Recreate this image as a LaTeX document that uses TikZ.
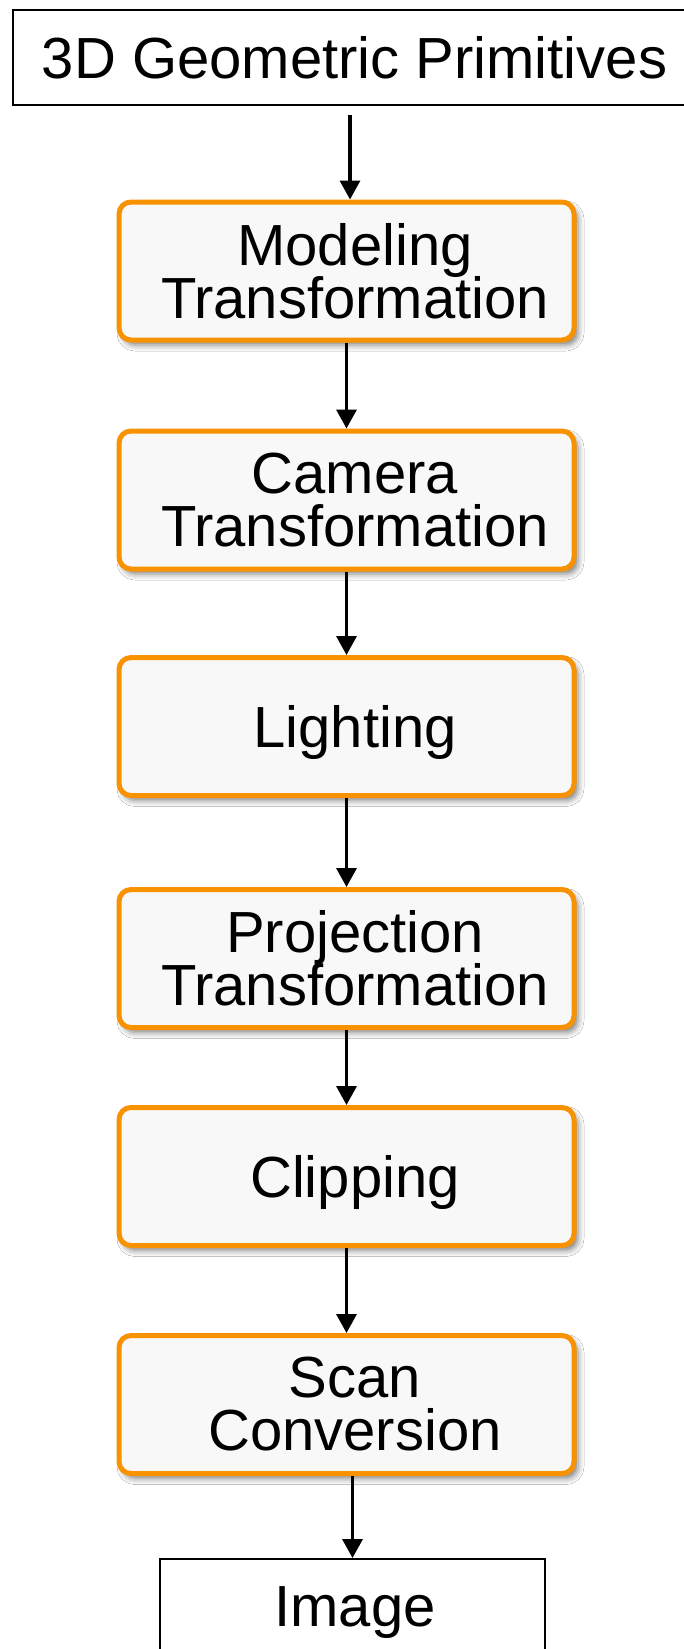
\documentclass[tikz,border=0pt]{standalone}
\usepackage{fontspec}
\setmainfont{Liberation Sans}
\usetikzlibrary{arrows.meta,shadows.blur}
\definecolor{orng}{RGB}{248,146,0}
\definecolor{boxfill}{RGB}{248,248,248}
\newcommand{\sh}{\hspace*{17pt}}
\newcommand{\stagefont}{\fontsize{58}{53}\selectfont\setlength{\lineskiplimit}{-100pt}}
\begin{document}
\begin{tikzpicture}[x=1pt,y=-1pt,
  stage/.style={draw=orng, line width=5pt, fill=boxfill, rounded corners=12pt,
    minimum width=455pt, minimum height=138pt, inner sep=0pt, align=center,
    font=\stagefont,
    blur shadow={shadow xshift=4pt, shadow yshift=-5pt, shadow blur radius=6pt, shadow opacity=50}},
  plain/.style={draw=black, line width=2pt, fill=white, inner sep=0pt,
    font=\stagefont, text depth=0pt},
  flow/.style={line width=3.5pt, -{Triangle[width=20pt,length=19pt]}}]
\path[use as bounding box, clip] (0,0) rectangle (684,1649);
\fill[white] (0,0) rectangle (684,1649);

\node[plain, minimum width=687pt, minimum height=95pt] (top) at (356.5,57.75) {3D Geometric Primitives\hspace*{4pt}};

\node[stage] (m1) at (346.5,271)    {\sh Modeling\\\sh Transformation};
\node[stage] (m2) at (346.5,500)    {\sh Camera\\\sh Transformation};
\node[stage, text depth=0pt] (m3) at (346.5,726.5)  {\sh Lighting};
\node[stage] (m4) at (346.5,958.5)  {\sh Projection\\\sh Transformation};
\node[stage, text depth=0pt] (m5) at (346.5,1176.5) {\sh Clipping};
\node[stage] (m6) at (346.5,1404.5) {\sh Scan\\\sh Conversion};

\node[plain, minimum width=385pt, minimum height=96pt] (img) at (352.5,1607) {\hspace*{5pt}Image};

\draw[flow, shorten <=9pt] ([xshift=-6.5pt]top.south) -- ([xshift=3.5pt]m1.north);
\draw[flow] (m1) -- (m2);
\draw[flow] (m2) -- (m3);
\draw[flow] (m3) -- (m4);
\draw[flow] (m4) -- (m5);
\draw[flow] (m5) -- (m6);
\draw[flow] (img.north |- m6.south) -- (img.north);
\end{tikzpicture}
\end{document}
